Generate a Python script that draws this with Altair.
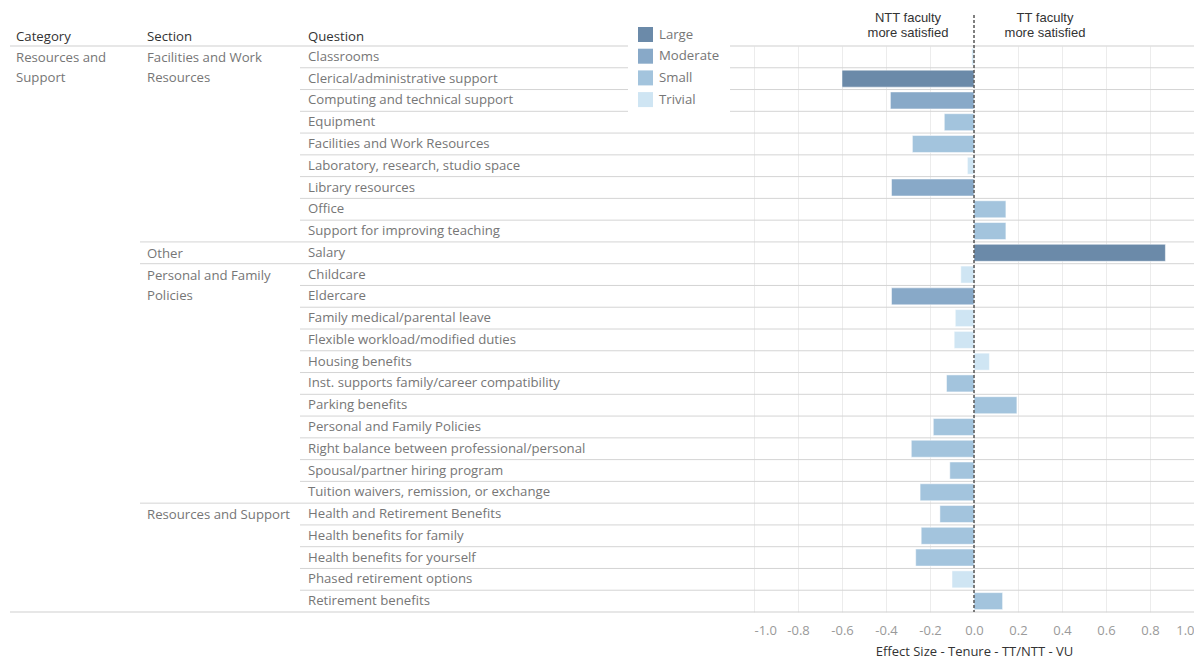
import textwrap
import altair as alt
import pandas as pd

# ---------------- data ----------------
questions = [
    "Classrooms", "Clerical/administrative support", "Computing and technical support",
    "Equipment", "Facilities and Work Resources", "Laboratory, research, studio space",
    "Library resources", "Office", "Support for improving teaching",
    "Salary",
    "Childcare", "Eldercare", "Family medical/parental leave",
    "Flexible workload/modified duties", "Housing benefits",
    "Inst. supports family/career compatibility", "Parking benefits",
    "Personal and Family Policies", "Right balance between professional/personal",
    "Spousal/partner hiring program", "Tuition waivers, remission, or exchange",
    "Health and Retirement Benefits", "Health benefits for family",
    "Health benefits for yourself", "Phased retirement options", "Retirement benefits",
]
sections = (["Facilities and Work Resources"] * 9 + ["Other"]
            + ["Personal and Family Policies"] * 11 + ["Resources and Support"] * 5)
categories = ["Resources and Support"] * 26
values = [-0.01, -0.60, -0.38, -0.135, -0.28, -0.03, -0.375, 0.145, 0.145,
          0.87,
          -0.06, -0.375, -0.085, -0.09, 0.07, -0.125, 0.195, -0.185, -0.285,
          -0.11, -0.245,
          -0.155, -0.24, -0.265, -0.10, 0.13]
effects = ["Trivial", "Large", "Moderate", "Small", "Small", "Trivial", "Moderate",
           "Small", "Small",
           "Large",
           "Trivial", "Moderate", "Trivial", "Trivial", "Trivial", "Small", "Small",
           "Small", "Small", "Small", "Small",
           "Small", "Small", "Small", "Trivial", "Small"]
effect_order = ["Large", "Moderate", "Small", "Trivial"]
effect_colors = ["#6b8aa9", "#88a9c8", "#a3c4dd", "#cfe5f3"]
headers = ["Category", "Section", "Question"]
note_left = ["NTT faculty", "more satisfied"]
note_right = ["TT faculty", "more satisfied"]
axis_title = "Effect Size - Tenure - TT/NTT - VU"
tick_values = [-1.0, -0.8, -0.6, -0.4, -0.2, 0.0, 0.2, 0.4, 0.6, 0.8, 1.0]

# ---------------- layout ----------------
W, H = 1186, 566
XR = [746, 1186]
FONT = "Open Sans"
FS = 13.2
BODY = "#767676"
DARK = "#333333"
LINE = "#d4d4d4"

df = pd.DataFrame({"Question": questions, "Section": sections,
                   "Category": categories, "Value": values, "Effect": effects})
df["first_sec"] = ~df["Section"].duplicated()
df["first_cat"] = ~df["Category"].duplicated()
df["SecLabel"] = df["Section"].apply(lambda s: "\n".join(textwrap.wrap(s, 21)))
df["CatLabel"] = df["Category"].apply(lambda s: "\n".join(textwrap.wrap(s, 14)))
df["idx"] = range(len(df))

yscale = alt.Scale(domain=questions, paddingInner=0, paddingOuter=0)


def Y(**kw):
    return alt.Y("Question:N", scale=yscale, axis=None, **kw)


xscale = alt.Scale(domain=[-1, 1], range=XR, nice=False, zero=False)

base = alt.Chart(df)

# row separator lines
lines_q = base.transform_filter("!datum.first_sec").mark_rule(
    color=LINE, strokeWidth=1).encode(
    y=Y(bandPosition=0), x=alt.value(292), x2=alt.value(W))
lines_s = base.transform_filter("datum.first_sec && datum.idx > 0").mark_rule(
    color=LINE, strokeWidth=1).encode(
    y=Y(bandPosition=0), x=alt.value(132), x2=alt.value(W))
line_top = base.transform_filter("datum.idx == 0").mark_rule(
    color="#cfcfcf", strokeWidth=1).encode(
    y=Y(bandPosition=0), x=alt.value(2), x2=alt.value(W))
line_bot = base.transform_filter(f"datum.idx == {len(df) - 1}").mark_rule(
    color="#cfcfcf", strokeWidth=1).encode(
    y=Y(bandPosition=1), x=alt.value(2), x2=alt.value(W))

bars = base.mark_bar(size=17, stroke="white", strokeWidth=0.5).encode(
    y=Y(),
    x=alt.X("Value:Q", scale=xscale,
            axis=alt.Axis(values=tick_values, title=axis_title,
                          labelExpr="datum.value < 0 ? '-' + format(-datum.value, '.1f') : format(datum.value, '.1f')",
                          grid=True, gridColor="#ececec", gridWidth=1,
                          ticks=False, domain=False, labelFlush=True,
                          labelFont=FONT, labelFontSize=13, labelColor="#9a9a9a",
                          labelPadding=12, titleFont=FONT, titleFontSize=13,
                          titleColor=DARK, titleFontWeight="normal",
                          titlePadding=8)),
    x2=alt.datum(0),
    color=alt.Color("Effect:N",
                    scale=alt.Scale(domain=effect_order, range=effect_colors),
                    legend=alt.Legend(title=None, orient="none", legendX=620,
                                      legendY=-29, symbolType="square",
                                      symbolSize=225, symbolStrokeWidth=0,
                                      symbolOpacity=1,
                                      fillColor="white", padding=10,
                                      labelFont=FONT, labelFontSize=FS,
                                      labelColor=BODY, rowPadding=6.7,
                                      labelOffset=6)),
)

zero_rule = alt.Chart(df).transform_filter("datum.idx == 0").transform_calculate(
    z="0").mark_rule(color="#555555", strokeDash=[3, 2], strokeWidth=1.5).encode(
    x=alt.X("z:Q", scale=xscale), y=alt.value(-31), y2=alt.value(H))

q_text = base.mark_text(align="left", baseline="middle", font=FONT,
                        fontSize=FS, color=BODY).encode(
    y=Y(), x=alt.value(300), text="Question:N")
s_text = base.transform_filter("datum.first_sec").mark_text(
    align="left", baseline="top", dy=-5, lineBreak="\n", lineHeight=20,
    font=FONT, fontSize=FS, color=BODY).encode(
    y=Y(), x=alt.value(139), text="SecLabel:N")
c_text = base.transform_filter("datum.first_cat").mark_text(
    align="left", baseline="top", dy=-5, lineBreak="\n", lineHeight=20,
    font=FONT, fontSize=FS, color=BODY).encode(
    y=Y(), x=alt.value(8), text="CatLabel:N")

hdr_x = [8, 139, 300]
hdr_layers = []
for name, hx in zip(headers, hdr_x):
    hdr_layers.append(
        alt.Chart(df).transform_filter("datum.idx == 0").mark_text(
            align="left", baseline="middle", font=FONT, fontSize=FS,
            color=DARK, text=name).encode(x=alt.value(hx), y=alt.value(-9)))

note_layers = []
for lines_, cx in ((note_left, 900), (note_right, 1037)):
    for i, t in enumerate(lines_):
        note_layers.append(
            alt.Chart(df).transform_filter("datum.idx == 0").mark_text(
                align="center", baseline="middle", font="Liberation Sans",
                fontSize=13, color=DARK, text=t).encode(
                x=alt.value(cx), y=alt.value(-28 + 15 * i)))

chart = alt.layer(
    lines_q, lines_s, line_top, line_bot, bars, zero_rule, q_text, s_text,
    c_text, *hdr_layers, *note_layers
).properties(
    width=W, height=H,
    autosize=alt.AutoSizeParams(type="none"),
    padding={"left": 0, "right": 0, "top": 38, "bottom": 48},
).configure_view(strokeWidth=0)

chart.save("out.html", embed_options={"renderer": "svg", "actions": False})
